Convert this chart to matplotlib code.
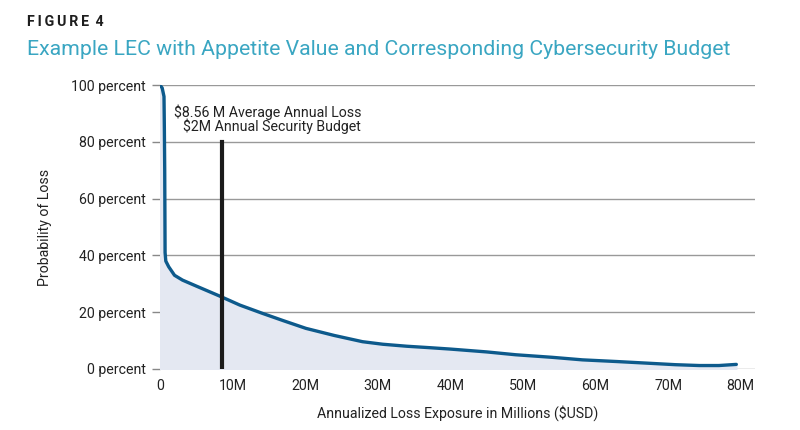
import numpy as np
import matplotlib.pyplot as plt

# values (loss in $M, probability in percent)
loss = [0, 0.3, 0.55, 0.6, 0.65, 0.7, 0.8, 1.2, 2.0, 3.1, 5, 8.2, 11, 14.1, 17,
        20.1, 24, 27.9, 30.7, 34, 37.1, 40, 45, 49, 54, 58.2, 63, 67.4, 71,
        74.3, 77, 79.4]
prob = [100, 99, 96, 85, 70, 41, 38, 36, 33, 31.3, 29.2, 25.7, 22.5, 19.6, 17,
        14.3, 11.8, 9.6, 8.7, 8.0, 7.5, 7.0, 6.0, 5.0, 4.1, 3.2, 2.6, 2.0, 1.5,
        1.2, 1.2, 1.6]
avg_loss = 8.56
budget_top = 80
x_ticks = [0, 10, 20, 30, 40, 50, 60, 70, 80]
x_labels = ['0', '10M', '20M', '30M', '40M', '50M', '60M', '70M', '80M']
y_ticks = [0, 20, 40, 60, 80, 100]
y_labels = [f'{v} percent' for v in y_ticks]

plt.rcParams['font.family'] = ['Roboto', 'DejaVu Sans']
fs = 10.2

fig = plt.figure(figsize=(8, 4.3), dpi=100)
ax = fig.add_axes([0.2, 0.142, 0.744, 0.66])

ax.fill_between(loss, prob, 0, color='#e4e8f2', zorder=1)
ax.plot(loss, prob, color='#0d5a8c', lw=2.4, solid_capstyle='round', zorder=3)
ax.plot([avg_loss, avg_loss], [0, budget_top], color='#1b1b1b', lw=3, zorder=4)

ax.text(27.7, 88.0, '\\$8.56 M Average Annual Loss\n\\$2M Annual Security Budget',
        ha='right', va='center', fontsize=fs, color='#222222', linespacing=0.95)

ax.set_xlim(0, 82)
ax.set_ylim(0, 100)
ax.set_xticks(x_ticks)
ax.set_xticklabels(x_labels)
ax.set_yticks(y_ticks)
ax.set_yticklabels(y_labels)
ax.tick_params(axis='x', length=0, pad=7, labelsize=fs, colors='#222222')
ax.tick_params(axis='y', length=6, width=1, color='#888888', pad=4,
               labelsize=fs, labelcolor='#222222')
ax.grid(axis='y', color='#999999', lw=1, zorder=0)
ax.set_axisbelow(True)
for s in ax.spines.values():
    s.set_visible(False)

ax.set_xlabel('Annualized Loss Exposure in Millions ($USD)', fontsize=fs,
              color='#222222', labelpad=9)
ax.set_ylabel('Probability of Loss', fontsize=fs, color='#222222', labelpad=14)

fig.text(0.034, 0.948, 'F\u2009I\u2009G\u2009U\u2009R\u2009E\u2009 4', fontsize=10.2,
         fontweight='bold', color='#1e1e1e', va='center')
fig.text(0.034, 0.886,
         'Example LEC with Appetite Value and Corresponding Cybersecurity Budget',
         fontsize=15.3, color='#3aa6c2', va='center')

fig.savefig('out.png', dpi=100)
